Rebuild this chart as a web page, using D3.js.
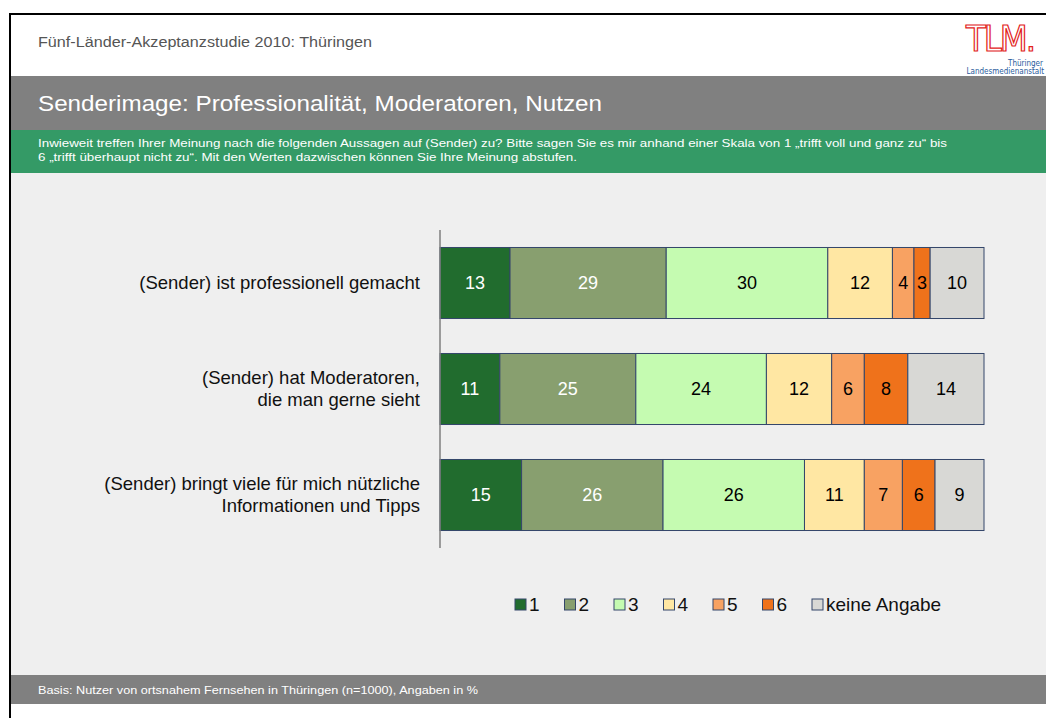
<!DOCTYPE html>
<html>
<head>
<meta charset="utf-8">
<script src="https://cdn.jsdelivr.net/npm/d3@7"></script>
<style>
  body { margin: 0; background: #fff; }
  svg { display: block; font-family: "Liberation Sans", Arial, sans-serif; }
</style>
</head>
<body>
<script>
// data
var categories = [
  ["(Sender) ist professionell gemacht"],
  ["(Sender) hat Moderatoren,", "die man gerne sieht"],
  ["(Sender) bringt viele für mich nützliche", "Informationen und Tipps"]
];
var seriesKeys = ["1", "2", "3", "4", "5", "6", "keine Angabe"];
var v1 = [13, 11, 15];
var v2 = [29, 25, 26];
var v3 = [30, 24, 26];
var v4 = [12, 12, 11];
var v5 = [4, 6, 7];
var v6 = [3, 8, 6];
var vNA = [10, 14, 9];
var colors = ["#216c2e", "#889f6f", "#c5fbb1", "#ffe7a3", "#f8a262", "#ef721b", "#d8d8d5"];
var labelColors = ["#fff", "#fff", "#000", "#000", "#000", "#000", "#000"];

var headerText = "Fünf-Länder-Akzeptanzstudie 2010: Thüringen";
var titleText = "Senderimage: Professionalität, Moderatoren, Nutzen";
var questionLines = [
  "Inwieweit treffen Ihrer Meinung nach die folgenden Aussagen auf (Sender) zu? Bitte sagen Sie es mir anhand einer Skala von 1 \u201etrifft voll und ganz zu\u201c bis",
  "6 \u201etrifft überhaupt nicht zu\u201c. Mit den Werten dazwischen können Sie Ihre Meinung abstufen."
];
var footerText = "Basis: Nutzer von ortsnahem Fernsehen in Thüringen (n=1000), Angaben in %";

var allValues = [v1, v2, v3, v4, v5, v6, vNA];
var rows = categories.map(function(c, i) {
  var r = {idx: i};
  seriesKeys.forEach(function(k, j) { r[k] = allValues[j][i]; });
  return r;
});

var width = 1046, height = 718;
var svg = d3.select("body").append("svg")
    .attr("width", width)
    .attr("height", height);

// page frame
svg.append("rect").attr("x", 11).attr("y", 15).attr("width", width - 11).attr("height", 61).attr("fill", "#fff");
svg.append("rect").attr("x", 11).attr("y", 76).attr("width", width - 11).attr("height", 54).attr("fill", "#808080");
svg.append("rect").attr("x", 11).attr("y", 130).attr("width", width - 11).attr("height", 43).attr("fill", "#349a66");
svg.append("rect").attr("x", 11).attr("y", 173).attr("width", width - 11).attr("height", 502).attr("fill", "#efefef");
svg.append("rect").attr("x", 11).attr("y", 675).attr("width", width - 11).attr("height", 29).attr("fill", "#808080");
svg.append("rect").attr("x", 9).attr("y", 13).attr("width", width - 9).attr("height", 2).attr("fill", "#000");
svg.append("rect").attr("x", 9).attr("y", 13).attr("width", 2).attr("height", height - 13).attr("fill", "#000");

svg.append("text")
    .attr("x", 38).attr("y", 47)
    .attr("fill", "#555")
    .attr("textLength", 334)
    .attr("lengthAdjust", "spacingAndGlyphs")
    .style("font-size", "14px")
    .text(headerText);

svg.append("text")
    .attr("x", 38).attr("y", 111)
    .attr("fill", "#fff")
    .attr("textLength", 564)
    .attr("lengthAdjust", "spacingAndGlyphs")
    .style("font-size", "22px")
    .text(titleText);

var qLengths = [909, 539];
svg.append("g").selectAll("text")
    .data(questionLines)
  .enter().append("text")
    .attr("x", 38)
    .attr("y", function(d, i) { return 147 + i * 14; })
    .attr("fill", "#fff")
    .attr("textLength", function(d, i) { return qLengths[i]; })
    .attr("lengthAdjust", "spacingAndGlyphs")
    .style("font-size", "11.5px")
    .text(function(d) { return d; });

svg.append("text")
    .attr("x", 38).attr("y", 694)
    .attr("fill", "#fff")
    .attr("textLength", 440)
    .attr("lengthAdjust", "spacingAndGlyphs")
    .style("font-size", "11.5px")
    .text(footerText);

// logo
var logo = svg.append("g");
logo.append("text")
    .attr("x", 1000).attr("y", 51)
    .attr("text-anchor", "middle")
    .attr("fill", "#fff")
    .attr("stroke", "#e2231a")
    .attr("stroke-width", 1.2)
    .style("font-size", "36px")
    .style("font-family", "'Liberation Sans Narrow', 'DejaVu Sans Condensed', sans-serif")
    .style("letter-spacing", "-2px")
    .text("TLM.");
logo.append("text")
    .attr("x", 1043).attr("y", 66)
    .attr("text-anchor", "end")
    .attr("fill", "#2a5b9c")
    .style("font-size", "8px")
    .style("font-family", "'Liberation Sans Narrow', 'DejaVu Sans Condensed', sans-serif")
    .text("Thüringer");
logo.append("text")
    .attr("x", 1044).attr("y", 74)
    .attr("text-anchor", "end")
    .attr("fill", "#2a5b9c")
    .style("font-size", "8px")
    .style("font-family", "'Liberation Sans Narrow', 'DejaVu Sans Condensed', sans-serif")
    .text("Landesmedienanstalt");

// chart
var x = d3.scaleLinear().domain([0, 1]).range([440, 984]);
var y = d3.scaleBand()
    .domain(rows.map(function(d) { return d.idx; }))
    .range([230, 548])
    .paddingInner(0.33)
    .paddingOuter(0.165);

var stack = d3.stack().keys(seriesKeys).offset(d3.stackOffsetExpand);
var series = stack(rows);

var layer = svg.append("g").selectAll("g")
    .data(series)
  .enter().append("g")
    .attr("fill", function(d, i) { return colors[i]; });

layer.selectAll("rect")
    .data(function(d) { return d; })
  .enter().append("rect")
    .attr("x", function(d) { return x(d[0]); })
    .attr("y", function(d) { return y(d.data.idx); })
    .attr("width", function(d) { return x(d[1]) - x(d[0]); })
    .attr("height", y.bandwidth())
    .attr("stroke", "#34466a")
    .attr("stroke-width", 1);

layer.selectAll("text")
    .data(function(d) { return d.map(function(p) { p.key = d.key; p.ki = d.index; return p; }); })
  .enter().append("text")
    .attr("x", function(d) { return (x(d[0]) + x(d[1])) / 2; })
    .attr("y", function(d) { return y(d.data.idx) + y.bandwidth() / 2; })
    .attr("dy", "0.35em")
    .attr("text-anchor", "middle")
    .attr("fill", function(d) { return labelColors[d.ki]; })
    .style("font-size", "18px")
    .text(function(d) { return d.data[d.key]; });

// category axis line
svg.append("line")
    .attr("x1", 440).attr("x2", 440)
    .attr("y1", 230).attr("y2", 548)
    .attr("stroke", "#7f7f7f")
    .attr("stroke-width", 1.5);

var cat = svg.append("g").selectAll("text")
    .data(categories)
  .enter().append("text")
    .attr("x", 420)
    .attr("y", function(d, i) { return y(i) + y.bandwidth() / 2 - (d.length - 1) * 11; })
    .attr("text-anchor", "end")
    .attr("fill", "#111")
    .style("font-size", "18.5px");

cat.selectAll("tspan")
    .data(function(d) { return d; })
  .enter().append("tspan")
    .attr("x", 420)
    .attr("dy", function(d, i) { return i === 0 ? "0.35em" : 22; })
    .text(function(d) { return d; });

// legend
var legend = svg.append("g").selectAll("g")
    .data(seriesKeys)
  .enter().append("g")
    .attr("transform", function(d, i) { return "translate(" + (515 + i * 49.5) + ",604)"; });

legend.append("rect")
    .attr("x", 0).attr("y", -5)
    .attr("width", 11).attr("height", 11)
    .attr("fill", function(d, i) { return colors[i]; })
    .attr("stroke", "#34466a")
    .attr("stroke-width", 1);

legend.append("text")
    .attr("x", 14)
    .attr("dy", "0.35em")
    .attr("fill", "#111")
    .style("font-size", "19px")
    .text(function(d) { return d; });
</script>
</body>
</html>
